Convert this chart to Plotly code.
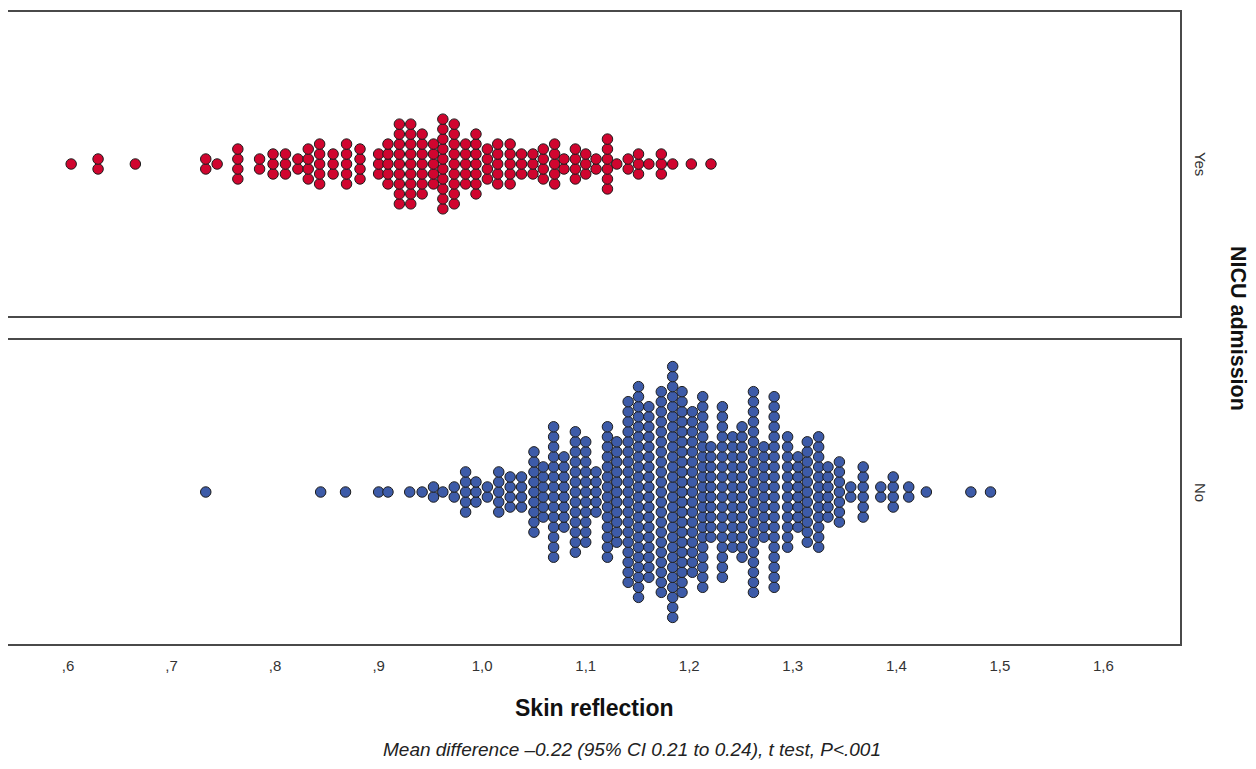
import plotly.graph_objects as go
from plotly.subplots import make_subplots

# Skin reflection dot columns (value, number of stacked dots)
yes_values = [0.603, 0.629, 0.665, 0.733, 0.744, 0.764, 0.785, 0.798, 0.810, 0.822,
              0.832, 0.843, 0.856, 0.869, 0.882, 0.900, 0.909, 0.920, 0.931, 0.942,
              0.953, 0.962, 0.973, 0.984, 0.994, 1.005, 1.015, 1.027, 1.038, 1.049,
              1.059, 1.070, 1.079, 1.090, 1.100, 1.110, 1.121, 1.130, 1.141, 1.151,
              1.161, 1.173, 1.184, 1.202, 1.221]
yes_counts = [1, 2, 1, 2, 1, 4, 2, 3, 3, 2,
              4, 5, 3, 5, 4, 3, 5, 9, 9, 7,
              5, 10, 9, 5, 7, 4, 5, 5, 3, 3,
              4, 5, 2, 4, 3, 2, 6, 1, 2, 3,
              1, 3, 1, 1, 1]

no_values = [0.733, 0.844, 0.868, 0.900, 0.909, 0.930, 0.942, 0.953, 0.962, 0.973,
             0.984, 0.994, 1.005, 1.016, 1.027, 1.038, 1.050, 1.059, 1.069, 1.079,
             1.090, 1.100, 1.110, 1.121, 1.130, 1.141, 1.151, 1.161, 1.173, 1.184,
             1.193, 1.203, 1.213, 1.221, 1.232, 1.242, 1.251, 1.262, 1.272, 1.282,
             1.295, 1.305, 1.314, 1.325, 1.334, 1.345, 1.356, 1.368, 1.385, 1.397,
             1.412, 1.429, 1.472, 1.491]
no_counts = [1, 1, 1, 1, 1, 1, 1, 2, 1, 2,
             5, 3, 2, 5, 4, 4, 9, 6, 14, 8,
             13, 11, 5, 14, 11, 19, 22, 18, 21, 26,
             21, 17, 20, 10, 18, 12, 14, 21, 10, 20,
             12, 8, 11, 12, 6, 7, 2, 6, 2, 4,
             2, 1, 1, 1]

tick_vals = [0.6, 0.7, 0.8, 0.9, 1.0, 1.1, 1.2, 1.3, 1.4, 1.5, 1.6]
tick_text = [",6", ",7", ",8", ",9", "1,0", "1,1", "1,2", "1,3", "1,4", "1,5", "1,6"]
groups = ["Yes", "No"]


def stack(values, counts):
    xs, ys = [], []
    for v, n in zip(values, counts):
        for i in range(n):
            xs.append(v)
            ys.append(i - (n - 1) / 2)
    return xs, ys


fig = make_subplots(rows=2, cols=1, shared_xaxes=True, vertical_spacing=24 / 632)

for row, (vals, cnts, color) in enumerate([(yes_values, yes_counts, "#d0052f"),
                                           (no_values, no_counts, "#3d5ba8")], start=1):
    xs, ys = stack(vals, cnts)
    fig.add_trace(go.Scatter(x=xs, y=ys, mode="markers",
                             marker=dict(size=10.5, color=color,
                                         line=dict(width=1, color="#1e1e1e")),
                             showlegend=False, hoverinfo="x"), row=row, col=1)

FONT = "Liberation Sans, Arial"
xr = [0.542, 1.674]
axis_line = dict(showline=True, linecolor="#4a4a4a", linewidth=1.5, mirror=True,
                 showgrid=False, zeroline=False)
fig.update_xaxes(range=xr, **axis_line)
fig.update_xaxes(showticklabels=False, ticks="", row=1, col=1)
fig.update_xaxes(tickvals=tick_vals, ticktext=tick_text, ticks="outside", ticklen=7,
                 tickcolor="rgba(0,0,0,0)",
                 tickfont=dict(family=FONT, size=15, color="#333333"),
                 row=2, col=1)
fig.update_yaxes(showticklabels=False, ticks="", **axis_line)
fig.update_yaxes(range=[-15.25, 15.25], row=1, col=1)
fig.update_yaxes(range=[-15.15, 15.15], row=2, col=1)

fig.update_layout(
    width=1248, height=761,
    margin=dict(l=0, r=76, t=4, b=125),
    plot_bgcolor="white", paper_bgcolor="white",
    font=dict(family=FONT, color="#222222"),
)

# group labels on the right
ann_font = dict(family=FONT, size=15, color="#333333")
fig.add_annotation(text=groups[0], xref="paper", yref="y", x=1.0180, y=0,
                   xanchor="center", yanchor="middle",
                   textangle=90, showarrow=False, font=ann_font)
fig.add_annotation(text=groups[1], xref="paper", yref="y2", x=1.0180, y=0,
                   xanchor="center", yanchor="middle",
                   textangle=90, showarrow=False, font=ann_font)
fig.add_annotation(text="<b>NICU admission</b>", xref="paper", yref="paper",
                   x=1.0495, y=0.5, xanchor="center", yanchor="middle",
                   textangle=90, showarrow=False, borderpad=0,
                   font=dict(family=FONT, size=21.5, color="#111111"))
fig.add_annotation(text="<b>Skin reflection</b>", xref="paper", yref="paper",
                   x=0.5, y=-0.1013, showarrow=False, xanchor="center", yanchor="middle",
                   font=dict(family=FONT, size=23, color="#111111"))
fig.add_annotation(text="<i>Mean difference \u20130.22 (95% CI 0.21 to 0.24), t test, P<.001</i>",
                   xref="paper", yref="paper", x=0.532, y=-0.1677, showarrow=False,
                   xanchor="center", yanchor="middle",
                   font=dict(family=FONT, size=19, color="#222222"))

fig.write_html("out.html")
